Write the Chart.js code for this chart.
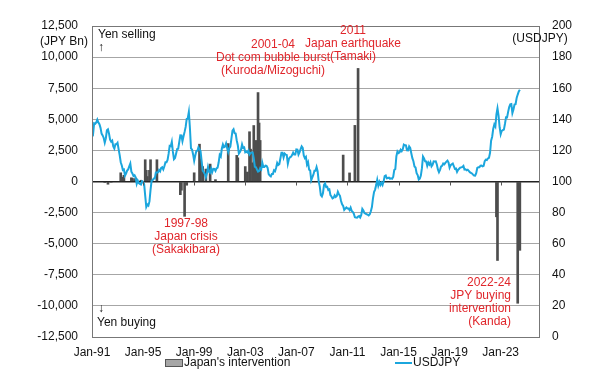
<!DOCTYPE html>
<html>
<head>
<meta charset="utf-8">
<script src="https://cdn.jsdelivr.net/npm/chart.js@4.4.1/dist/chart.umd.min.js"></script>
<style>
  html, body { margin: 0; padding: 0; background: #fff; }
  #caja { width: 600px; height: 389px; }
</style>
</head>
<body>
<div id="caja"><canvas id="grafico" width="600" height="389"></canvas></div>
<script>
// USDJPY mensual desde ene-1991
const startYear = 1991;
const usdjpy = [
  131.5, 130.5, 137.4, 137.1, 138.0, 139.8, 137.9, 136.8, 134.5, 130.8, 129.6, 128.0,
  125.0, 127.7, 132.9, 133.5, 130.8, 126.9, 125.6, 126.3, 122.6, 121.2, 123.9, 123.9,
  124.9, 120.8, 117.0, 112.4, 110.3, 107.4, 107.7, 103.8, 105.1, 107.0, 107.8, 109.7,
  111.5, 106.3, 105.1, 103.5, 104.0, 102.7, 98.5, 100.6, 99.0, 98.4, 98.0, 100.2,
  99.8, 98.2, 90.8, 83.7, 85.2, 84.5, 87.2, 94.6, 100.5, 100.8, 101.9, 101.9,
  105.8, 105.8, 105.9, 107.4, 106.5, 108.8, 109.2, 107.8, 109.8, 112.3, 112.3, 113.9,
  117.9, 122.9, 122.7, 125.5, 119.2, 114.3, 115.1, 117.9, 120.9, 121.1, 125.4, 129.7,
  129.6, 125.9, 129.1, 131.9, 135.1, 140.3, 140.7, 144.7, 134.4, 121.3, 120.6, 117.4,
  113.3, 116.7, 119.5, 119.8, 122.0, 120.7, 119.6, 113.2, 107.0, 106.0, 104.8, 102.6,
  105.2, 109.3, 106.3, 105.6, 108.3, 106.1, 108.2, 108.1, 106.8, 108.4, 108.9, 112.2,
  117.1, 116.1, 121.2, 123.8, 122.0, 122.4, 124.5, 121.5, 118.9, 121.5, 122.4, 127.6,
  132.7, 133.6, 131.0, 130.8, 126.4, 123.3, 118.0, 119.0, 120.5, 123.9, 121.6, 121.9,
  118.8, 119.3, 118.7, 119.9, 117.4, 118.3, 118.7, 118.7, 114.8, 109.5, 109.2, 107.7,
  106.3, 106.7, 108.5, 107.7, 112.2, 109.4, 109.4, 110.2, 110.0, 108.8, 104.7, 103.8,
  103.3, 104.9, 104.9, 107.2, 106.6, 108.8, 111.9, 110.6, 111.1, 114.8, 118.5, 118.5,
  115.5, 117.9, 117.3, 117.1, 111.5, 114.5, 115.6, 115.9, 117.0, 118.6, 117.3, 117.3,
  120.6, 120.5, 117.3, 118.8, 120.8, 122.6, 121.6, 116.7, 115.0, 115.8, 110.9, 112.4,
  107.6, 107.1, 100.8, 102.6, 104.4, 106.9, 106.9, 109.3, 106.6, 100.1, 96.9, 91.3,
  90.4, 92.5, 97.8, 98.8, 96.4, 96.6, 94.5, 94.9, 91.3, 90.4, 89.1, 89.5,
  91.1, 90.1, 90.7, 93.4, 91.8, 90.8, 87.5, 85.4, 84.3, 81.7, 82.5, 83.3,
  82.6, 82.6, 81.6, 83.2, 81.1, 80.5, 79.3, 77.0, 76.8, 76.7, 77.5, 77.8,
  76.9, 78.5, 82.4, 81.4, 79.7, 79.3, 78.9, 78.7, 78.2, 78.9, 80.9, 83.6,
  89.2, 93.2, 94.8, 97.7, 101.1, 97.3, 99.7, 97.8, 99.2, 97.8, 100.1, 103.5,
  103.9, 102.1, 102.3, 102.5, 101.8, 102.1, 101.8, 102.9, 107.4, 108.0, 116.3, 119.3,
  118.3, 118.8, 120.4, 119.5, 120.8, 123.7, 123.3, 123.2, 120.1, 120.0, 122.6, 121.6,
  118.2, 115.0, 113.0, 109.7, 109.0, 105.4, 104.1, 101.3, 101.9, 103.8, 108.6, 116.1,
  114.9, 113.0, 112.9, 110.1, 112.2, 110.9, 112.4, 109.8, 110.8, 112.9, 112.8, 112.9,
  110.9, 107.8, 106.0, 107.5, 109.7, 110.1, 111.5, 111.0, 112.0, 112.8, 113.4, 112.2,
  108.9, 110.5, 111.1, 111.6, 109.8, 108.1, 108.3, 106.2, 107.5, 108.2, 108.9, 109.1,
  109.3, 110.0, 107.7, 107.8, 107.2, 107.6, 106.8, 106.0, 105.6, 105.2, 104.4, 103.8,
  103.7, 105.4, 108.7, 109.1, 109.1, 110.1, 110.2, 109.8, 110.1, 113.1, 114.0, 113.8,
  114.8, 115.2, 118.5, 126.2, 128.8, 133.9, 136.6, 135.3, 143.1, 147.0, 142.3, 134.9,
  130.4, 132.6, 133.0, 133.4, 137.0, 141.3, 141.2, 144.8, 147.9, 149.6, 149.8, 144.0,
  146.3, 149.5, 149.7, 153.7, 155.9, 157.9, 159.0
];

// Intervenciones de Japón (JPY miles de millones)
const intervMeses = [
  '1992-01', '1992-04', '1992-07',
  '1993-04', '1993-05', '1993-07',
  '1994-02', '1994-03', '1994-05', '1994-06', '1994-07', '1994-11',
  '1995-03', '1995-04', '1995-05', '1995-07', '1995-08', '1996-02',
  '1997-12', '1998-01', '1998-04', '1998-06',
  '1999-01', '1999-06', '1999-07', '1999-09', '1999-12', '2000-04', '2000-09',
  '2001-09', '2002-05', '2002-06',
  '2003-01', '2003-03', '2003-05', '2003-06', '2003-08', '2003-09', '2003-10', '2003-11', '2003-12',
  '2004-01', '2004-02', '2004-03',
  '2010-09', '2011-03', '2011-08', '2011-11',
  '2022-09', '2022-10', '2024-05', '2024-07'
];
const intervValores = [
  -80, -220, -60,
  700, 350, 500,
  300, 250, 150, 280, 120, 100,
  1750, 900, 400, 900, 1750, 1750,
  -1060, -700, -2800, -300,
  700, 3000, 1800, 1200, 1000, 1400, 150,
  3050, 2100, 1900,
  1200, 760, 4000, 2600, 1500, 4500, 2600, 3300, 1800,
  7150, 4700, 3300,
  2125, 690, 4510, 9090,
  -2838, -6350, -9788, -5532
];

const xTickYears = [1991, 1995, 1999, 2003, 2007, 2011, 2015, 2019, 2023];
const xTickLabels = ['Jan-91', 'Jan-95', 'Jan-99', 'Jan-03', 'Jan-07', 'Jan-11', 'Jan-15', 'Jan-19', 'Jan-23'];

const fuente = "'Liberation Sans', Arial, sans-serif";
const rojo = '#E0262B';
const azul = '#1BA6DD';

function mesADecimal(s) {
  const [a, m] = s.split('-').map(Number);
  return a + (m - 1) / 12;
}

const datosLinea = usdjpy.map((v, i) => ({ x: startYear + i / 12, y: v }));
const datosBarras = intervMeses.map((m, i) => ({ x: mesADecimal(m), y: intervValores[i] }));

// Textos y leyenda dibujados sobre el gráfico
const textosPlugin = {
  id: 'textos',
  afterDraw(chart) {
    const ctx = chart.ctx;
    const xs = chart.scales.x;
    const ys = chart.scales.y;
    const area = chart.chartArea;
    const y0 = ys.getPixelForValue(0);

    ctx.save();
    // marcas del eje x sobre la línea de cero
    ctx.strokeStyle = '#555';
    ctx.lineWidth = 1;
    xTickYears.forEach(a => {
      const px = Math.round(xs.getPixelForValue(a)) + 0.5;
      ctx.beginPath();
      ctx.moveTo(px, y0);
      ctx.lineTo(px, y0 + 4);
      ctx.stroke();
    });

    // borde del área
    ctx.strokeStyle = '#777';
    ctx.strokeRect(Math.round(area.left) + 0.5, Math.round(area.top) + 0.5,
      Math.round(area.right - area.left), Math.round(area.bottom - area.top));

    ctx.font = '12px ' + fuente;
    ctx.textBaseline = 'middle';

    // anotaciones en rojo
    ctx.fillStyle = rojo;
    ctx.textAlign = 'center';
    [['2001-04', 45], ['Dot com bubble burst', 58], ['(Kuroda/Mizoguchi)', 71]]
      .forEach(([t, y]) => ctx.fillText(t, 273, y));
    [['2011', 31], ['Japan earthquake', 44], ['(Tamaki)', 57]]
      .forEach(([t, y]) => ctx.fillText(t, 353, y));
    [['1997-98', 224], ['Japan crisis', 237], ['(Sakakibara)', 250]]
      .forEach(([t, y]) => ctx.fillText(t, 186, y));
    ctx.textAlign = 'right';
    [['2022-24', 283], ['JPY buying', 296], ['intervention', 309], ['(Kanda)', 322]]
      .forEach(([t, y]) => ctx.fillText(t, 511, y));

    // textos en negro
    ctx.fillStyle = '#111';
    ctx.textAlign = 'left';
    ctx.fillText('Yen selling', 98, 35);
    ctx.fillText('\u2191', 98, 48);
    ctx.fillText('\u2193', 98, 309);
    ctx.fillText('Yen buying', 97, 323);
    ctx.fillText('(JPY Bn)', 40, 42);
    ctx.textAlign = 'center';
    ctx.fillText('(USDJPY)', 540, 39);

    // leyenda
    ctx.textAlign = 'left';
    ctx.fillStyle = '#a6a6a6';
    ctx.fillRect(165, 359, 17, 7);
    ctx.strokeStyle = '#555';
    ctx.strokeRect(165.5, 359.5, 17, 7);
    ctx.fillStyle = '#111';
    ctx.fillText("Japan's intervention", 184, 363);
    ctx.strokeStyle = azul;
    ctx.lineWidth = 2;
    ctx.beginPath();
    ctx.moveTo(395, 363);
    ctx.lineTo(412, 363);
    ctx.stroke();
    ctx.fillText('USDJPY', 413, 363);
    ctx.restore();
  }
};

const ctx = document.getElementById('grafico').getContext('2d');
new Chart(ctx, {
  type: 'bar',
  data: {
    datasets: [
      {
        type: 'line',
        label: 'USDJPY',
        data: datosLinea,
        yAxisID: 'y1',
        borderColor: azul,
        borderWidth: 2,
        pointRadius: 0,
        tension: 0,
        order: 0
      },
      {
        type: 'bar',
        label: "Japan's intervention",
        data: datosBarras,
        yAxisID: 'y',
        backgroundColor: '#4d4d4d',
        borderWidth: 0,
        barThickness: 2,
        order: 1
      }
    ]
  },
  options: {
    responsive: false,
    animation: false,
    devicePixelRatio: 1,
    layout: { padding: { top: 26, left: 0, right: 0, bottom: 0 } },
    plugins: {
      legend: { display: false },
      tooltip: { enabled: false }
    },
    scales: {
      x: {
        type: 'linear',
        min: 1991,
        max: 2026,
        offset: false,
        grid: { display: false, drawTicks: false },
        border: { display: true, color: '#777' },
        afterBuildTicks: (scale) => {
          scale.ticks = xTickYears.map(v => ({ value: v }));
        },
        afterFit: (scale) => { scale.height = 52; },
        ticks: {
          autoSkip: false,
          maxRotation: 0,
          padding: 8,
          color: '#111',
          font: { family: fuente, size: 12 },
          callback: (v) => xTickLabels[xTickYears.indexOf(v)]
        }
      },
      y: {
        position: 'left',
        min: -12500,
        max: 12500,
        afterFit: (scale) => { scale.width = 92; },
        grid: {
          drawTicks: false,
          color: (c) => c.tick.value === 0 ? '#222' : '#a6a6a6',
          lineWidth: (c) => c.tick.value === 0 ? 1.5 : 1
        },
        border: { display: true, color: '#777' },
        ticks: {
          stepSize: 2500,
          padding: 14,
          color: '#111',
          font: { family: fuente, size: 12 },
          callback: (v) => v.toLocaleString('en-US')
        }
      },
      y1: {
        position: 'right',
        min: 0,
        max: 200,
        afterFit: (scale) => { scale.width = 61; },
        grid: { display: false, drawTicks: false },
        border: { display: true, color: '#777' },
        ticks: {
          stepSize: 20,
          padding: 13,
          color: '#111',
          font: { family: fuente, size: 12 }
        }
      }
    }
  },
  plugins: [textosPlugin]
});
</script>
</body>
</html>
